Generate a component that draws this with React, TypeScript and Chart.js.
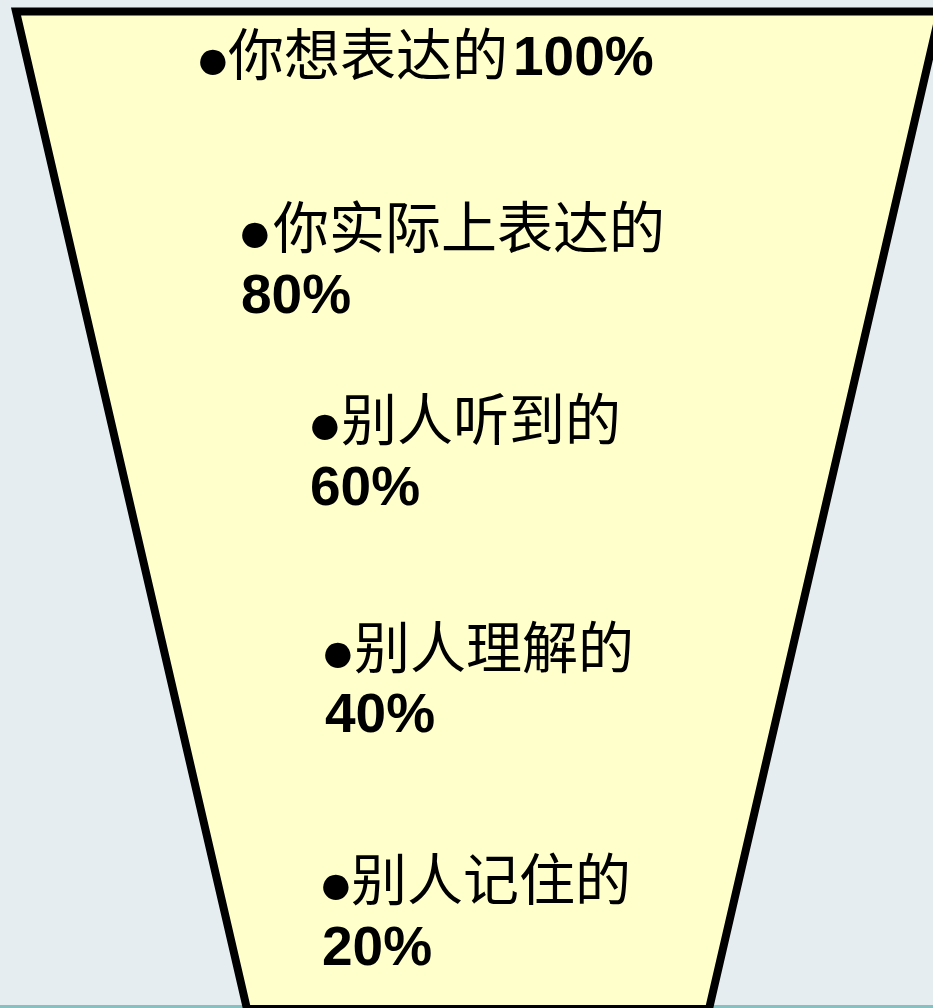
import React, { useEffect, useRef } from 'react';
import { Chart, registerables } from 'chart.js';

Chart.register(...registerables);

// ---- data ----
const stageNames = ['你想表达的', '你实际上表达的', '别人听到的', '别人理解的', '别人记住的'];
const stagePercents = [100, 80, 60, 40, 20];
// funnel outline: depth (0 = top, 100 = bottom) and width in % of the top width
const funnelDepths = [0, 100];
const funnelWidths = [100, 50];

// ---- layout (pixels) ----
const W = 933;
const H = 1008;
const TOP_CENTER_PX = 478;
const TOP_WIDTH_PX = 924;
const TOP_PX = 11.5;
const BOTTOM_PX = 1009;
// x: ink-left of the bullet; base1/base2: baselines of first/second line
const labelLayout = [
  { x: 200, textDx: 28, base1: 75, base2: 0 },
  { x: 242, textDx: 31, base1: 248, base2: 313 },
  { x: 312, textDx: 30, base1: 440, base2: 505 },
  { x: 325, textDx: 30, base1: 668, base2: 732 },
  { x: 323, textDx: 29, base1: 900, base2: 965 },
];
const BULLET_DIAM = 26;
const BULLET_RISE = 12.5;
const CJK_FONT = '56px "Noto Sans CJK SC"';
const NUM_FONT = 'bold 55px "Liberation Sans"';

const xPerUnit = TOP_WIDTH_PX / funnelWidths[0];
const yPerUnit = (BOTTOM_PX - TOP_PX) / (funnelDepths[1] - funnelDepths[0]);

const bgPlugin = {
  id: 'slideBg',
  beforeDraw(chart: any) {
    const { ctx, width, height } = chart;
    ctx.save();
    ctx.fillStyle = '#E5EDF0';
    ctx.fillRect(0, 0, width, height);
    ctx.fillStyle = '#88C0C1';
    ctx.fillRect(0, height - 3, width, 3);
    ctx.restore();
  },
};

const drawInk = (ctx: any, text: string, inkLeft: number, baseline: number) => {
  const m = ctx.measureText(text);
  ctx.fillText(text, inkLeft + m.actualBoundingBoxLeft, baseline);
  return inkLeft + m.actualBoundingBoxLeft + m.actualBoundingBoxRight;
};

const labelPlugin = {
  id: 'funnelLabels',
  afterDatasetsDraw(chart: any) {
    const { ctx } = chart;
    ctx.save();
    ctx.fillStyle = '#000000';
    ctx.textBaseline = 'alphabetic';
    ctx.textAlign = 'left';
    // size the bullet glyph so its ink has the wanted diameter
    ctx.font = '100px "Liberation Sans", "DejaVu Sans"';
    const bm = ctx.measureText('●');
    const bDiam100 = bm.actualBoundingBoxAscent + bm.actualBoundingBoxDescent;
    const bSize = (100 * BULLET_DIAM) / (bDiam100 || 50);
    stageNames.forEach((name, i) => {
      const L = labelLayout[i];
      // bullet
      ctx.font = `${bSize.toFixed(2)}px "Liberation Sans", "DejaVu Sans"`;
      const m = ctx.measureText('●');
      const centerOff = (m.actualBoundingBoxAscent - m.actualBoundingBoxDescent) / 2;
      const bulletBase = L.base1 - BULLET_RISE + centerOff;
      drawInk(ctx, '●', L.x, bulletBase);
      // name
      ctx.font = CJK_FONT;
      const end = drawInk(ctx, name, L.x + L.textDx, L.base1);
      // percent
      const pct = stagePercents[i] + '%';
      ctx.font = NUM_FONT;
      if (!L.base2) drawInk(ctx, pct, end + 11, L.base1);
      else drawInk(ctx, pct, L.x, L.base2);
    });
    ctx.restore();
  },
};

export default function App() {
  const ref = useRef<HTMLCanvasElement | null>(null);
  useEffect(() => {
    document.body.style.margin = '0';
    document.body.style.background = '#E5EDF0';
    const canvas = ref.current;
    if (!canvas) return;
    const [d0, d1] = funnelDepths;
    const [w0, w1] = funnelWidths;
    const shape = [
      { x: -w0 / 2, y: d0 },
      { x: -w1 / 2, y: d1 },
      { x: w1 / 2, y: d1 },
      { x: w0 / 2, y: d0 },
    ];
    // closed outline starting mid-way along the top edge so both top corners get a mitred join
    const outline = [{ x: 0, y: d0 }, ...shape, { x: 0, y: d0 }];
    const chart = new Chart(canvas, {
      type: 'line',
      data: {
        datasets: [
          {
            label: 'outline',
            data: outline,
            fill: false,
            borderColor: '#000000',
            borderWidth: 8,
            borderJoinStyle: 'miter',
            borderCapStyle: 'butt',
            pointRadius: 0,
            tension: 0,
            clip: false,
          },
          {
            label: 'fill',
            data: shape,
            fill: { value: d0 },
            backgroundColor: '#FFFFCC',
            borderWidth: 0,
            borderColor: 'rgba(0,0,0,0)',
            pointRadius: 0,
            tension: 0,
          },
        ],
      },
      options: {
        animation: false,
        responsive: false,
        maintainAspectRatio: false,
        layout: { padding: 0 },
        events: [],
        plugins: {
          legend: { display: false },
          title: { display: false },
          tooltip: { enabled: false },
        },
        scales: {
          x: {
            type: 'linear',
            display: false,
            min: -TOP_CENTER_PX / xPerUnit,
            max: (W - TOP_CENTER_PX) / xPerUnit,
          },
          y: {
            type: 'linear',
            display: false,
            reverse: true,
            min: d0 - TOP_PX / yPerUnit,
            max: d0 + (H - TOP_PX) / yPerUnit,
          },
        },
      } as any,
      plugins: [bgPlugin, labelPlugin],
    });
    return () => chart.destroy();
  }, []);
  return (
    <div style={{ width: W, height: H }}>
      <canvas ref={ref} width={W} height={H} style={{ display: 'block' }} />
    </div>
  );
}
